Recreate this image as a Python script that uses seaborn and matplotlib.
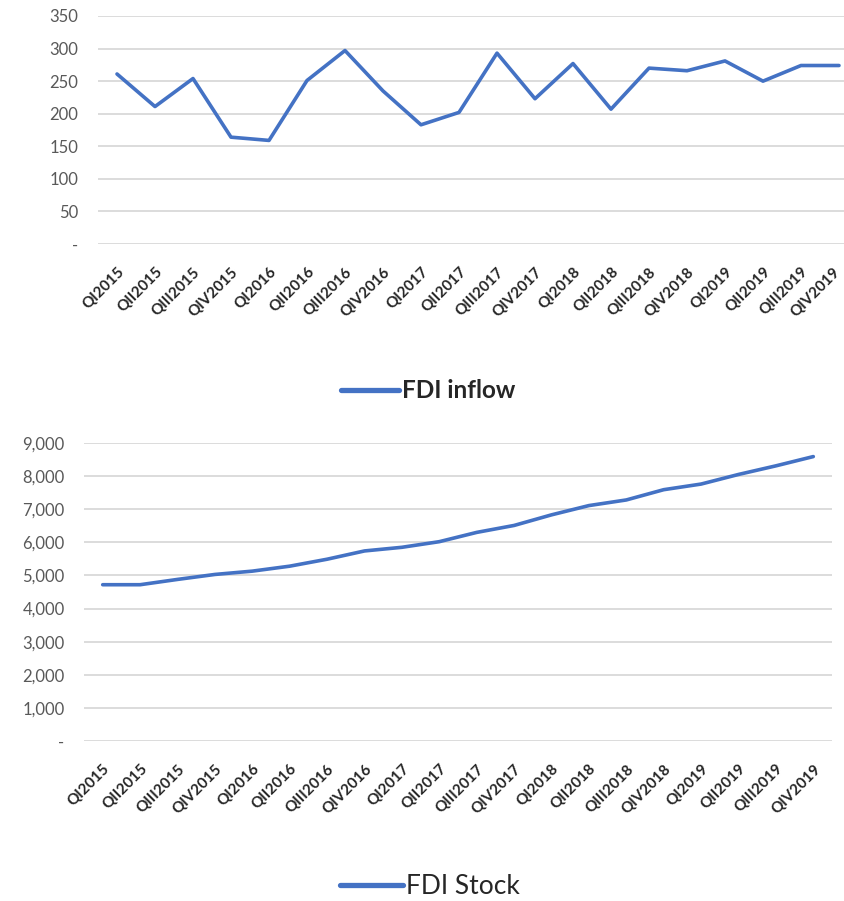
import pandas as pd
import matplotlib
matplotlib.use('Agg')
import matplotlib.pyplot as plt
import matplotlib.ticker as mticker
import matplotlib.transforms as mtransforms
import seaborn as sns

quarters = ['QI2015', 'QII2015', 'QIII2015', 'QIV2015',
            'QI2016', 'QII2016', 'QIII2016', 'QIV2016',
            'QI2017', 'QII2017', 'QIII2017', 'QIV2017',
            'QI2018', 'QII2018', 'QIII2018', 'QIV2018',
            'QI2019', 'QII2019', 'QIII2019', 'QIV2019']
fdi_inflow = [261, 211, 254, 164, 159, 251, 297, 235, 183, 202,
              293, 223, 277, 207, 270, 266, 281, 250, 274, 274]
fdi_stock = [4720, 4720, 4880, 5030, 5130, 5280, 5490, 5740, 5850, 6020,
             6300, 6510, 6830, 7110, 7280, 7590, 7760, 8050, 8310, 8590]

df = pd.DataFrame({'quarter': quarters, 'FDI inflow': fdi_inflow, 'FDI Stock': fdi_stock})
df['pos'] = range(len(df))

sns.set_style('white')
plt.rcParams['font.family'] = ['Lato', 'DejaVu Sans']

blue = '#4472C4'
grid = '#D9D9D9'

fig = plt.figure(figsize=(8.44, 9.01), dpi=100)
W, H = 844, 901


def px_axes(x0, y0, x1, y1):
    return fig.add_axes([x0 / W, 1 - y1 / H, (x1 - x0) / W, (y1 - y0) / H])


def fmt_zero(fmt):
    return mticker.FuncFormatter(lambda v, p: '-' if v == 0 else fmt.format(v))


def style(ax, ymax, step, fmt, pad):
    ax.set_ylim(0, ymax)
    ax.set_yticks(range(0, ymax + 1, step))
    ax.yaxis.set_major_formatter(fmt_zero(fmt))
    ax.grid(axis='y', color=grid, linewidth=1.3)
    ax.set_axisbelow(True)
    sns.despine(ax=ax, left=True, bottom=True, right=True, top=True)
    ax.tick_params(axis='both', length=0)
    ax.tick_params(axis='y', labelsize=12, labelcolor='#595959', pad=14)
    ax.set_xticks(df['pos'])
    ax.set_xticklabels(df['quarter'], rotation=45, ha='right',
                       rotation_mode='anchor', fontsize=11,
                       fontweight='bold', color='#262626')
    ax.tick_params(axis='x', pad=pad)
    ax.set_xlabel('')
    ax.set_ylabel('')


# top: FDI inflow
ax1 = px_axes(98, 16, 844, 244)
sns.lineplot(data=df, x='pos', y='FDI inflow', ax=ax1, color=blue,
             linewidth=2.6, label='FDI inflow')
ax1.set_xlim(-0.5, (844 - 98) / 38 - 0.5)
style(ax1, 350, 50, '{:.0f}', 15)
# last label sits right at the figure edge; nudge it in a little
last = ax1.get_xticklabels()[-1]
last.set_transform(last.get_transform() +
                   mtransforms.ScaledTranslation(-6 / 100, 0, fig.dpi_scale_trans))
leg1 = ax1.legend(loc='center', bbox_to_anchor=(428 / W, 1 - 391 / H),
                  bbox_transform=fig.transFigure, frameon=False,
                  handlelength=2.4, handletextpad=0.1,
                  prop={'size': 17.5, 'weight': 'bold'})
for l in leg1.get_lines():
    l.set_linewidth(3.8)

# bottom: FDI Stock
ax2 = px_axes(84, 443, 832, 741)
sns.lineplot(data=df, x='pos', y='FDI Stock', ax=ax2, color=blue,
             linewidth=2.6, label='FDI Stock')
ax2.set_xlim(-0.5, 19.5)
style(ax2, 9000, 1000, '{:,.0f}', 15)
leg2 = ax2.legend(loc='center', bbox_to_anchor=(430 / W, 1 - 887 / H),
                  bbox_transform=fig.transFigure, frameon=False,
                  handlelength=2.4, handletextpad=0.1,
                  prop={'size': 19})
for l in leg2.get_lines():
    l.set_linewidth(3.8)

fig.savefig('out.png', dpi=100)
